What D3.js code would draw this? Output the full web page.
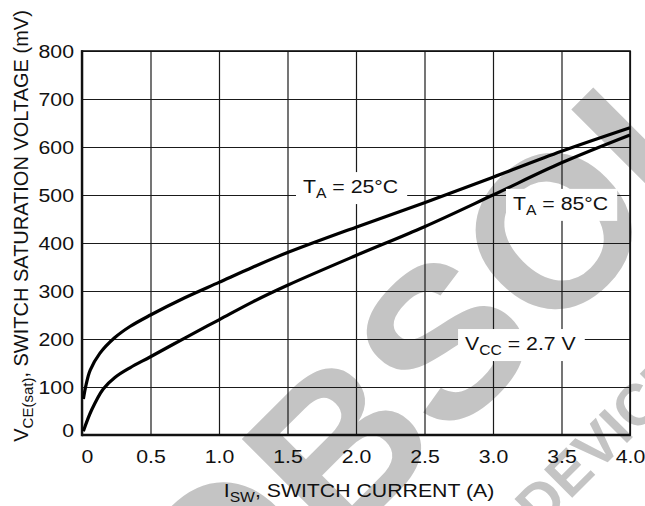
<!DOCTYPE html>
<html>
<head>
<meta charset="utf-8">
<script src="https://cdn.jsdelivr.net/npm/d3@7"></script>
<style>
  body { margin: 0; background: #fff; }
  svg { display: block; }
</style>
</head>
<body>
<div id="chart"></div>
<script>
// axis ticks
const xTicks = [0, 0.5, 1.0, 1.5, 2.0, 2.5, 3.0, 3.5, 4.0];
const xTickLabels = ["0", "0.5", "1.0", "1.5", "2.0", "2.5", "3.0", "3.5", "4.0"];
const yTicks = [0, 100, 200, 300, 400, 500, 600, 700, 800];

// T_A = 25°C curve (switch current A, Vce(sat) mV)
const current25 = [0.01, 0.03, 0.06, 0.13, 0.24, 0.35, 0.5, 0.75, 1.0, 1.25, 1.5, 2.0, 2.5, 3.0, 3.5, 4.0];
const vsat25    = [75, 105, 135, 170, 203, 226, 250, 286, 318, 350, 380, 433, 484, 537, 591, 640];

// T_A = 85°C curve
const current85 = [0.01, 0.07, 0.155, 0.24, 0.35, 0.5, 0.75, 1.0, 1.25, 1.5, 2.0, 2.5, 3.0, 3.5, 4.0];
const vsat85    = [8, 52, 96, 120, 140, 163, 202, 240, 278, 312, 374, 434, 500, 567, 625];

const font = '"Liberation Sans", Arial, Helvetica, sans-serif';
const stretch = 1.12; // the original glyphs are a bit wider than Arial

const width = 645, height = 506;
const margin = {top: 51, right: 15, bottom: 71, left: 82};

const svg = d3.select("#chart").append("svg")
  .attr("width", width)
  .attr("height", height);

const x = d3.scaleLinear().domain([0, 4]).range([margin.left, width - margin.right]);
const y = d3.scaleLinear().domain([0, 800]).range([height - margin.bottom, margin.top]);
const plotH = y(0) - y(800);
const plotW = x(4) - x(0);

// watermark
const wm = svg.append("g")
  .style("font-family", font)
  .style("font-weight", "bold")
  .style("fill", "#c4c4c4");
wm.append("text")
  .attr("transform", "translate(218,672) rotate(-45)")
  .style("font-size", "215px")
  .text("OBSOLETE");
wm.append("text")
  .attr("transform", "translate(540,530) rotate(-45)")
  .style("font-size", "58px")
  .text("DEVICE");

// grid + tick labels
const gx = svg.append("g")
  .attr("transform", "translate(0," + y(0) + ")")
  .call(d3.axisBottom(x)
    .tickValues(xTicks)
    .tickFormat((d, i) => xTickLabels[i])
    .tickSize(-plotH)
    .tickSizeOuter(0))
  .attr("font-family", font)
  .attr("font-size", 19);
gx.select(".domain").remove();
gx.selectAll("line").attr("stroke", "#1a1a1a").attr("stroke-width", 1.2);
gx.selectAll("text")
  .attr("y", 28).attr("dy", null)
  .attr("fill", "#111")
  .attr("transform", "scale(" + stretch + ",1)")
  .attr("x", d => d === 0 ? 5 / stretch : 0);

const gy = svg.append("g")
  .attr("transform", "translate(" + x(0) + ",0)")
  .call(d3.axisLeft(y)
    .tickValues(yTicks)
    .tickFormat(d3.format("d"))
    .tickSize(-plotW)
    .tickSizeOuter(0))
  .attr("font-family", font)
  .attr("font-size", 19);
gy.select(".domain").remove();
gy.selectAll("line").attr("stroke", "#1a1a1a").attr("stroke-width", 1.2);
gy.selectAll("text")
  .attr("fill", "#111")
  .attr("x", -8 / stretch)
  .attr("y", d => d === 0 ? -5 : 0)
  .attr("transform", "scale(" + stretch + ",1)");

// frame
svg.append("rect")
  .attr("x", x(0)).attr("y", y(800))
  .attr("width", plotW).attr("height", plotH)
  .attr("fill", "none").attr("stroke", "#111").attr("stroke-width", 1.6);
svg.append("line")
  .attr("x1", x(0)).attr("x2", x(0)).attr("y1", y(800) - 0.8).attr("y2", y(0) + 1.2)
  .attr("stroke", "#111").attr("stroke-width", 2.4);
svg.append("line")
  .attr("x1", x(0)).attr("x2", x(4) + 0.8).attr("y1", y(0)).attr("y2", y(0))
  .attr("stroke", "#111").attr("stroke-width", 2.4);

// curves
const line = d3.line()
  .x(d => x(d[0]))
  .y(d => y(d[1]))
  .curve(d3.curveCatmullRom.alpha(0.5));

[[current25, vsat25], [current85, vsat85]].forEach(function(s) {
  svg.append("path")
    .datum(d3.zip(s[0], s[1]))
    .attr("d", line)
    .attr("fill", "none")
    .attr("stroke", "#000")
    .attr("stroke-width", 3.2);
});

// labels with white boxes
const annotations = [
  {at: [1.613, 504], parts: [["T"], ["A", true], [" = 25°C"]]},
  {at: [3.146, 469], parts: [["T"], ["A", true], [" = 85°C"]]},
  {at: [2.796, 177], parts: [["V"], ["CC", true], [" = 2.7 V"]]}
];

function richText(sel, parts, subSize) {
  let down = false;
  parts.forEach(function(p) {
    const t = sel.append("tspan").text(p[0]);
    if (p[1]) {
      t.attr("dy", 5).style("font-size", subSize + "px");
      down = true;
    } else {
      if (down) t.attr("dy", -5);
      down = false;
    }
  });
}

annotations.forEach(function(a) {
  const g = svg.append("g")
    .attr("transform", "translate(" + x(a.at[0]) + "," + y(a.at[1]) + ") scale(" + stretch + ",1)");
  const box = g.append("rect").attr("fill", "#fff");
  const t = g.append("text")
    .style("font-family", font)
    .style("font-size", "19px")
    .style("fill", "#111");
  richText(t, a.parts, 14);
  const w = t.node().getComputedTextLength();
  box.attr("x", -7 / stretch).attr("y", -21)
    .attr("width", w + 16 / stretch).attr("height", 32);
});

// axis titles
const xt = svg.append("text")
  .attr("transform", "translate(359,497) scale(" + stretch + ",1)")
  .attr("text-anchor", "middle")
  .style("font-family", font)
  .style("font-size", "19px")
  .style("fill", "#111");
richText(xt, [["I"], ["SW", true], [", SWITCH CURRENT (A)"]], 14);

const yt = svg.append("text")
  .attr("transform", "translate(28,226) rotate(-90)")
  .attr("text-anchor", "middle")
  .style("font-family", font)
  .style("font-size", "20px")
  .style("fill", "#111");
richText(yt, [["V"], ["CE(sat)", true], [", SWITCH SATURATION VOLTAGE (mV)"]], 15);
</script>
</body>
</html>
